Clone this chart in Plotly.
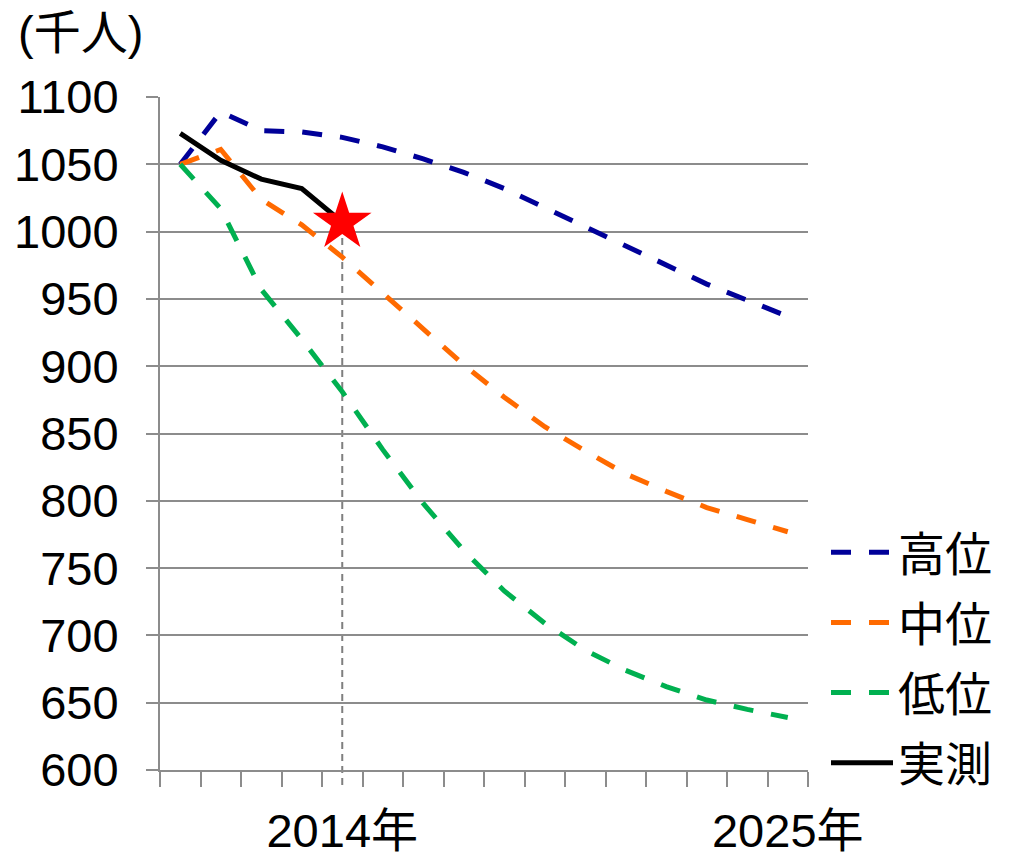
import plotly.graph_objects as go

# Years on the category axis and their displayed labels
years = [str(y) for y in range(2010, 2026)]
year_labels = ["", "", "", "", "2014年", "", "", "", "", "", "", "", "", "", "", "2025年"]

# Projection series (thousand people)
high = [1050, 1089, 1075, 1074, 1070, 1063, 1054, 1044, 1032, 1018, 1004, 989, 975, 961, 949, 937]
mid = [1050, 1061, 1024, 1005, 981, 954, 928, 901, 877, 855, 837, 820, 807, 795, 786, 777]
low = [1050, 1017, 957, 920, 881, 838, 798, 763, 733, 709, 689, 674, 662, 652, 645, 639]

# Observed values
actual_years = years[:5]
actual = [1073, 1053, 1039, 1032, 1007]

series_names = ["高位", "中位", "低位", "実測"]
series_colors = ["#000099", "#FF6A00", "#00B050", "#000000"]

W, H = 1011, 857
M_L, M_R, M_T, M_B = 160, 203, 97, 87
Y_MIN, Y_MAX = 600, 1100
plot_w = W - M_L - M_R
plot_h = H - M_T - M_B
TICK_LEN_X = 15
FS = 47

FONT = "Liberation Sans, Arial, Noto Sans CJK JP, sans-serif"
GRID = "#8C8C8C"

fig = go.Figure()

for i, (name, vals) in enumerate(zip(series_names[:3], [high, mid, low])):
    fig.add_trace(go.Scatter(
        x=years, y=vals, name=name, mode="lines",
        line=dict(color=series_colors[i], width=5, dash="20px,18px"),
        legendgroup=name, hoverinfo="skip",
    ))

fig.add_trace(go.Scatter(
    x=actual_years, y=actual, name=series_names[3], mode="lines",
    line=dict(color=series_colors[3], width=5),
    legendgroup=series_names[3], hoverinfo="skip",
))

# Star on the latest observed value
fig.add_trace(go.Scatter(
    x=[actual_years[-1]], y=[actual[-1]], mode="markers",
    marker=dict(symbol="star", size=44, color="#FF0000", line=dict(width=0)),
    showlegend=False, hoverinfo="skip",
))

# Dashed drop line from the latest observation down through the axis
last_idx = years.index(actual_years[-1])
fig.add_shape(
    type="line", xref="x", yref="paper",
    x0=last_idx, x1=last_idx,
    y0=-TICK_LEN_X / plot_h, y1=(actual[-1] - Y_MIN) / (Y_MAX - Y_MIN),
    line=dict(color="#7F7F7F", width=2, dash="7px,5px"),
    layer="below",
)

fig.add_annotation(
    text="(千人)", xref="paper", yref="paper",
    x=(16 - M_L) / plot_w, y=1 + (M_T - 33) / plot_h,
    xanchor="left", yanchor="middle", showarrow=False,
    font=dict(family=FONT, size=FS, color="#000000"),
)

fig.update_layout(
    width=W, height=H,
    margin=dict(l=M_L, r=M_R, t=M_T, b=M_B, autoexpand=False),
    paper_bgcolor="#FFFFFF", plot_bgcolor="#FFFFFF",
    font=dict(family=FONT, size=FS, color="#000000"),
    showlegend=True,
    legend=dict(
        x=(826 - M_L) / plot_w, y=-0.045, xanchor="left", yanchor="bottom",
        font=dict(family=FONT, size=FS, color="#000000"),
        tracegroupgap=6, itemwidth=62,
        bgcolor="rgba(0,0,0,0)",
    ),
    xaxis=dict(
        type="category", categoryorder="array", categoryarray=years,
        range=[-0.5, len(years) - 0.5], automargin=False,
        tickmode="array", tickvals=years, ticktext=year_labels, tickangle=0,
        tickson="boundaries", ticks="outside", ticklen=TICK_LEN_X,
        tickcolor=GRID, tickwidth=2,
        showline=True, linecolor=GRID, linewidth=2,
        showgrid=False, zeroline=False,
        ticklabelstandoff=19,
        tickfont=dict(family=FONT, size=FS, color="#000000"),
    ),
    yaxis=dict(
        range=[Y_MIN, Y_MAX], dtick=50, tick0=600, automargin=False,
        ticks="outside", ticklen=12, tickcolor=GRID, tickwidth=2,
        showline=True, linecolor=GRID, linewidth=2,
        showgrid=True, gridcolor=GRID, gridwidth=2,
        zeroline=False,
        ticklabelstandoff=18,
        tickfont=dict(family=FONT, size=FS, color="#000000"),
    ),
)

fig.write_html("out.html")
